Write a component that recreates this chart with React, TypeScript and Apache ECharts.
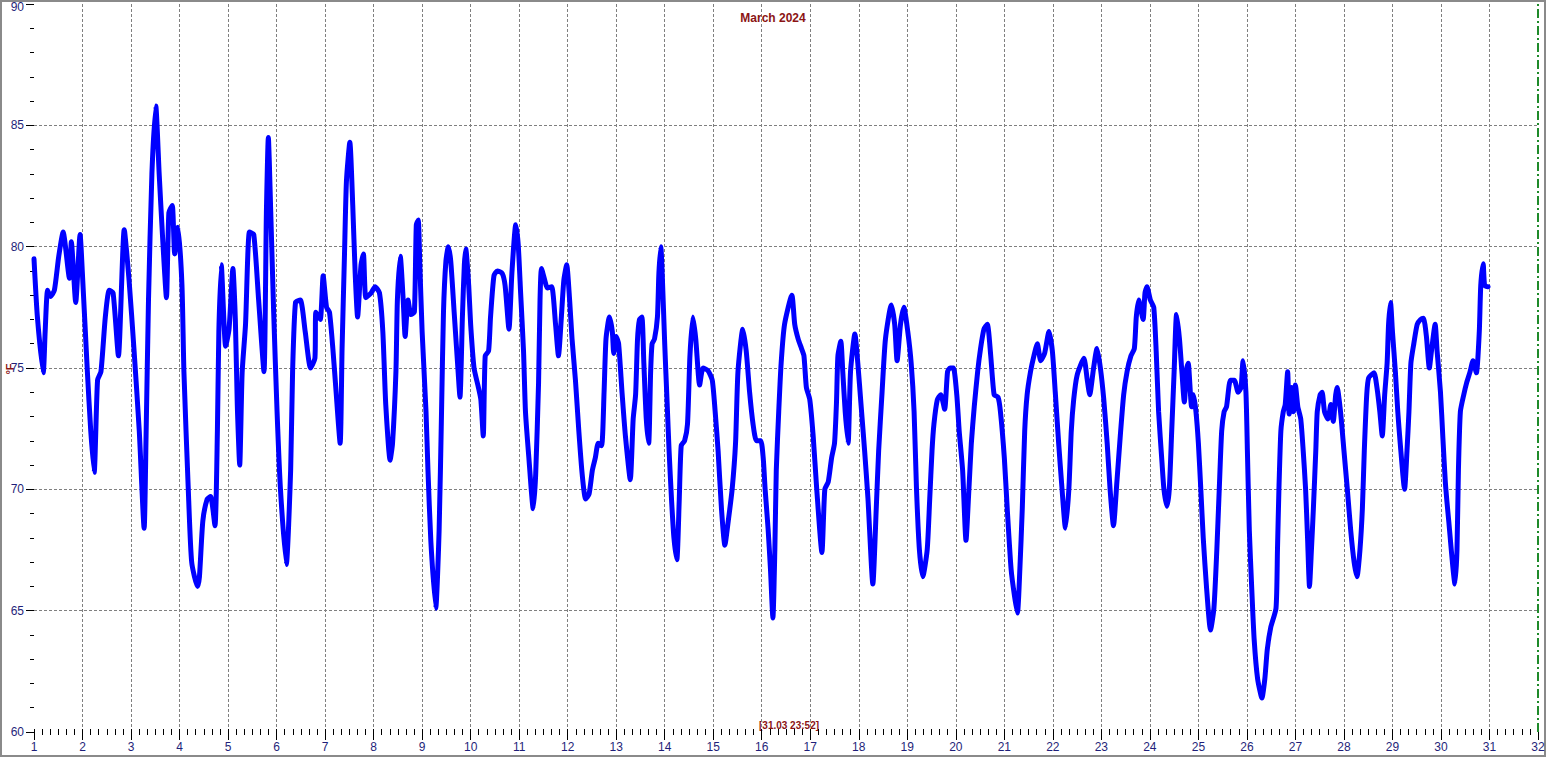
import React, { useEffect, useRef } from "react";
import * as echarts from "echarts";

// Time position (day of month, fractional) of each reading
const dayPos: number[] = [
  1.0, 1.07, 1.19, 1.23, 1.28, 1.34, 1.42, 1.51, 1.6, 1.73, 1.77, 1.86, 1.95, 2.0, 2.1, 2.17, 2.24, 2.31, 2.38,
  2.47, 2.55, 2.63, 2.74, 2.86, 2.96, 3.06, 3.17, 3.27, 3.31, 3.36, 3.43, 3.51, 3.58, 3.65, 3.73, 3.78, 3.85,
  3.9, 3.97, 4.05, 4.09, 4.18, 4.25, 4.37, 4.41, 4.48, 4.57, 4.64, 4.73, 4.78, 4.81, 4.86, 4.95, 5.02, 5.1,
  5.15, 5.19, 5.24, 5.29, 5.36, 5.44, 5.53, 5.63, 5.74, 5.79, 5.83, 5.88, 5.94, 6.01, 6.08, 6.2, 6.29, 6.33,
  6.39, 6.49, 6.59, 6.7, 6.79, 6.81, 6.9, 6.96, 7.03, 7.09, 7.16, 7.22, 7.31, 7.35, 7.4, 7.44, 7.51, 7.57,
  7.62, 7.67, 7.74, 7.79, 7.84, 7.95, 8.03, 8.12, 8.19, 8.25, 8.34, 8.39, 8.46, 8.49, 8.55, 8.61, 8.65, 8.71,
  8.77, 8.84, 8.88, 8.92, 8.95, 9.0, 9.08, 9.12, 9.18, 9.28, 9.35, 9.4, 9.44, 9.49, 9.54, 9.59, 9.66, 9.73,
  9.78, 9.83, 9.87, 9.9, 9.96, 10.0, 10.07, 10.16, 10.21, 10.26, 10.3, 10.37, 10.41, 10.48, 10.55, 10.65,
  10.71, 10.79, 10.85, 10.93, 10.98, 11.03, 11.09, 11.13, 11.2, 11.29, 11.34, 11.4, 11.43, 11.46, 11.53,
  11.58, 11.67, 11.75, 11.81, 11.87, 11.92, 11.98, 12.04, 12.09, 12.16, 12.23, 12.3, 12.37, 12.44, 12.51,
  12.57, 12.63, 12.7, 12.75, 12.79, 12.86, 12.92, 12.95, 13.0, 13.05, 13.12, 13.19, 13.29, 13.35, 13.4,
  13.44, 13.48, 13.53, 13.57, 13.62, 13.67, 13.71, 13.74, 13.79, 13.85, 13.88, 13.92, 13.95, 14.0, 14.05,
  14.09, 14.14, 14.19, 14.25, 14.3, 14.34, 14.41, 14.47, 14.52, 14.58, 14.64, 14.72, 14.79, 14.89, 14.98,
  15.04, 15.1, 15.17, 15.24, 15.31, 15.39, 15.46, 15.51, 15.61, 15.68, 15.75, 15.82, 15.89, 15.98, 16.03,
  16.07, 16.13, 16.18, 16.23, 16.27, 16.3, 16.35, 16.4, 16.47, 16.62, 16.68, 16.75, 16.82, 16.87, 16.92,
  16.99, 17.06, 17.13, 17.24, 17.3, 17.37, 17.44, 17.5, 17.54, 17.57, 17.63, 17.67, 17.72, 17.78, 17.83,
  17.92, 17.98, 18.05, 18.12, 18.19, 18.29, 18.36, 18.41, 18.48, 18.55, 18.67, 18.74, 18.79, 18.86, 18.93,
  19.01, 19.08, 19.14, 19.19, 19.25, 19.32, 19.41, 19.46, 19.51, 19.55, 19.62, 19.69, 19.77, 19.83, 19.88,
  19.95, 20.02, 20.07, 20.14, 20.21, 20.27, 20.32, 20.38, 20.45, 20.51, 20.58, 20.65, 20.72, 20.79, 20.87,
  20.92, 21.0, 21.06, 21.14, 21.21, 21.27, 21.32, 21.37, 21.42, 21.47, 21.54, 21.61, 21.68, 21.75, 21.83,
  21.92, 21.99, 22.05, 22.12, 22.19, 22.26, 22.33, 22.38, 22.43, 22.5, 22.64, 22.71, 22.76, 22.84, 22.91,
  22.98, 23.05, 23.12, 23.18, 23.25, 23.32, 23.39, 23.46, 23.53, 23.61, 23.68, 23.72, 23.77, 23.86, 23.9,
  23.94, 24.01, 24.08, 24.13, 24.18, 24.25, 24.29, 24.35, 24.4, 24.45, 24.5, 24.55, 24.61, 24.66, 24.71,
  24.76, 24.79, 24.86, 24.9, 24.95, 25.0, 25.05, 25.1, 25.17, 25.25, 25.32, 25.38, 25.43, 25.48, 25.53,
  25.58, 25.66, 25.74, 25.82, 25.88, 25.92, 25.98, 26.01, 26.05, 26.1, 26.15, 26.22, 26.31, 26.37, 26.42,
  26.49, 26.6, 26.63, 26.66, 26.7, 26.75, 26.79, 26.84, 26.87, 26.92, 26.96, 27.0, 27.05, 27.11, 27.16,
  27.21, 27.25, 27.29, 27.33, 27.37, 27.42, 27.45, 27.51, 27.55, 27.6, 27.67, 27.73, 27.78, 27.83, 27.86,
  27.93, 28.0, 28.07, 28.14, 28.21, 28.27, 28.33, 28.38, 28.42, 28.47, 28.51, 28.62, 28.68, 28.74, 28.79,
  28.84, 28.89, 28.92, 28.96, 29.0, 29.06, 29.11, 29.16, 29.25, 29.3, 29.34, 29.38, 29.44, 29.51, 29.58,
  29.64, 29.7, 29.76, 29.81, 29.88, 29.92, 29.99, 30.04, 30.09, 30.16, 30.29, 30.33, 30.36, 30.4, 30.47,
  30.53, 30.6, 30.66, 30.73, 30.79, 30.82, 30.87, 30.9, 30.97,
];

// Temperature readings (°F)
const tempF: number[] = [
  79.5, 77.1, 74.8, 76.5, 78.2, 77.95, 78.2, 79.6, 80.6, 78.7, 80.2, 77.7, 80.5, 78.8, 74.85, 72.4, 70.7, 74.5, 74.85,
  77.1, 78.2, 78.1, 75.5, 80.7, 78.6, 75.8, 72.4, 68.4, 72.2, 77.8, 83.0, 85.8, 83.0, 80.4, 77.9, 81.4, 81.7,
  79.7, 80.8, 78.4, 74.85, 70.0, 67.0, 66.0, 66.4, 68.7, 69.6, 69.7, 68.5, 72.4, 76.5, 79.25, 75.9, 76.6, 79.1,
  77.0, 73.5, 71.0, 74.8, 76.8, 80.6, 80.5, 77.8, 74.85, 81.4, 84.5, 81.4, 77.3, 73.2, 70.0, 66.9, 70.8, 74.85,
  77.7, 77.8, 76.5, 75.0, 75.4, 77.3, 77.0, 78.8, 77.5, 77.3, 75.8, 74.2, 71.9, 75.8, 79.7, 82.7, 84.3, 81.7,
  78.9, 77.1, 79.25, 79.7, 77.9, 78.1, 78.35, 78.1, 76.5, 73.5, 71.2, 71.9, 74.85, 77.8, 79.6, 77.8, 76.3, 77.8,
  77.2, 77.3, 80.9, 81.1, 79.4, 76.5, 73.2, 70.8, 67.85, 65.1, 68.3, 73.2, 77.3, 79.4, 80.0, 79.4, 77.3, 75.2,
  73.8, 77.1, 79.25, 79.9, 78.4, 76.8, 75.0, 74.2, 73.7, 72.2, 75.5, 75.7, 77.1, 78.8, 79.0, 78.9,
  78.4, 76.6, 78.9, 80.9, 80.1, 78.1, 75.7, 73.2, 71.3, 69.2, 70.6, 74.4, 77.8, 79.1, 78.6,
  78.3, 78.35, 76.8, 75.5, 77.1, 78.6, 79.25, 77.8, 76.2, 74.5, 72.4, 70.6, 69.6, 69.8, 70.8,
  71.3, 71.9, 71.8, 74.0, 76.2, 77.1, 76.5, 75.6, 76.3, 76.0, 74.0, 72.2, 70.4, 72.9, 73.9,
  76.2, 77.0, 77.1, 75.2, 72.9, 71.9, 74.85, 76.0, 76.2, 77.1, 78.9, 80.0, 78.8, 76.0, 73.55,
  71.6, 69.6, 68.0, 67.1, 69.6, 71.8, 72.0, 72.7, 75.5, 77.1, 76.2, 74.3, 75.0, 74.9, 74.5,
  73.2, 71.6, 69.2, 67.7, 68.7, 70.0, 71.9, 74.85, 76.6, 75.7, 74.0, 72.7, 72.0, 72.0, 71.3,
  70.0, 68.4, 66.7, 64.7, 67.5, 70.8, 73.2, 75.2, 76.8, 78.0, 76.8, 76.2, 75.8, 75.5, 74.2,
  73.7, 72.2, 70.1, 67.4, 70.0, 70.3, 71.3, 71.9, 73.55, 75.5, 76.1, 74.85, 73.2, 71.9, 74.85,
  76.4, 75.2, 73.4, 71.6, 69.6, 66.1, 69.2, 71.6, 74.0, 76.2, 77.6, 76.8, 75.3, 76.8, 77.5,
  76.5, 75.2, 73.2, 70.0, 67.5, 66.4, 67.5, 69.5, 71.6, 72.7, 73.7, 73.9, 73.3, 74.85, 75.0,
  75.0, 73.9, 72.4, 70.8, 67.9, 70.0, 71.9, 73.4, 74.85, 75.8, 76.6, 76.8, 75.5, 73.9, 73.8,
  73.2, 71.3, 69.2, 66.7, 65.6, 64.9, 66.7, 69.2, 72.4, 73.9, 74.85, 75.5, 76.0, 75.3, 75.6,
  76.5, 75.7, 74.0, 71.9, 70.0, 68.4, 70.0, 72.4, 73.7, 74.7, 75.4, 74.5, 73.9, 75.0, 75.8,
  75.0, 73.7, 71.9, 70.0, 68.5, 70.3, 72.2, 73.9, 74.85, 75.5, 75.8, 77.1, 77.8, 77.0, 78.1,
  78.35, 77.8, 77.5, 75.7, 73.2, 71.1, 70.0, 69.3, 70.0, 72.4, 74.85, 77.2, 76.2, 74.85, 73.6,
  75.0, 75.2, 73.4, 73.9, 73.2, 71.9, 70.0, 68.0, 65.9, 64.2, 65.1, 67.5, 70.0, 72.4, 73.2,
  73.4, 74.5, 74.5, 74.0, 74.2, 75.3, 74.0, 71.6, 68.3, 65.9, 63.8, 62.2, 61.4, 62.2, 63.4,
  64.3, 65.1, 67.5, 70.0, 72.4, 73.2, 73.5, 74.85, 73.1, 74.2, 73.2, 74.3, 73.4, 72.9, 71.6,
  70.0, 68.0, 66.0, 67.5, 69.2, 71.6, 73.2, 73.9, 74.0, 73.2, 72.9, 73.5, 72.8, 73.9, 74.2,
  73.2, 71.6, 70.0, 68.3, 67.0, 66.4, 67.5, 69.2, 71.6, 73.9, 74.6, 74.8, 74.2, 73.2, 72.2,
  73.9, 75.2, 76.8, 77.7, 76.5, 74.85, 73.2, 71.9, 70.0, 71.6, 73.2, 75.2, 76.0, 76.8, 77.0,
  77.05, 76.3, 75.0, 75.8, 76.8, 75.7, 74.0, 72.1, 70.3, 68.7, 66.1, 67.5, 70.8, 73.2, 73.9,
  74.4, 74.85, 75.3, 74.8, 76.5, 78.4, 79.3, 78.4, 78.35,
];

const titleText = "March 2024";
const cursorText = "[31.03 23:52]";
const yUnit = "°F";
const xMin = 1;
const xMax = 32;
const yMin = 60;
const yMax = 90;

const FONT = 'Arial, "Liberation Sans", sans-serif';
const NAVY = "#1f1f7a";
const DARKRED = "#8b1414";

export default function App() {
  const ref = useRef<HTMLDivElement>(null);
  useEffect(() => {
    document.body.style.margin = "0";
    if (!ref.current) return;
    const chart = echarts.init(ref.current, null, { renderer: "svg" });
    const data = dayPos.map((d, i) => [d, tempF[i]]);
    chart.setOption({
      animation: false,
      backgroundColor: "#ffffff",
      textStyle: { fontFamily: FONT },
      title: {
        text: titleText,
        left: "center",
        top: 12,
        padding: 0,
        textStyle: { fontSize: 12, fontWeight: "bold", color: DARKRED, fontFamily: FONT },
      },
      grid: { left: 34, right: 8, top: 4, bottom: 25, containLabel: false, outerBoundsMode: "none" },
      xAxis: {
        type: "value",
        min: xMin,
        max: xMax,
        interval: 1,
        offset: -3,
        axisLine: { show: false },
        axisTick: { show: true, inside: false, length: 11, lineStyle: { color: "#000000", width: 1 } },
        minorTick: { show: true, splitNumber: 6, length: 6, lineStyle: { color: "#000000", width: 1 } },
        axisLabel: { color: NAVY, fontSize: 12, margin: 12, fontFamily: FONT },
        splitLine: {
          show: true,
          showMinLine: false,
          showMaxLine: false,
          lineStyle: { color: "#7f7f7f", type: [3, 2], width: 1 },
        },
      },
      yAxis: {
        type: "value",
        min: yMin,
        max: yMax,
        interval: 5,
        axisLine: { show: false },
        axisTick: { show: true, inside: false, length: 8, lineStyle: { color: "#000000", width: 1 } },
        minorTick: { show: true, splitNumber: 5, length: 4, lineStyle: { color: "#000000", width: 1 } },
        axisLabel: {
          color: NAVY,
          fontSize: 12,
          margin: 10,
          fontFamily: FONT,
          formatter: (v: number) => (v === yMax ? `{top|${v}}` : `${v}`),
          rich: { top: { color: NAVY, fontSize: 12, fontFamily: FONT, padding: [5, 0, 0, 0] } },
        },
        splitLine: {
          show: true,
          showMinLine: false,
          showMaxLine: false,
          lineStyle: { color: "#7f7f7f", type: [3, 2], width: 1 },
        },
      },
      series: [
        {
          type: "line",
          data,
          showSymbol: false,
          symbol: "none",
          smooth: 0.2,
          lineStyle: { color: "#0000ff", width: 5, join: "round", cap: "round" },
          markLine: {
            silent: true,
            symbol: "none",
            label: { show: false },
            lineStyle: { color: "#1f8a2a", type: [9, 3, 2, 3], width: 2 },
            data: [{ xAxis: xMax }],
          },
        },
      ],
      graphic: [
        {
          type: "rect",
          shape: { x: 1, y: 1, width: 1544, height: 755 },
          style: { fill: "none", stroke: "#8a8a8a", lineWidth: 2 },
          silent: true,
        },
        {
          type: "text",
          x: 10,
          y: 369,
          rotation: Math.PI / 2,
          style: {
            text: yUnit,
            fill: DARKRED,
            font: `bold 11px ${FONT}`,
            textAlign: "center",
            textVerticalAlign: "middle",
          },
          silent: true,
        },
        {
          type: "text",
          x: 789,
          y: 725,
          style: {
            text: cursorText,
            fill: DARKRED,
            font: `bold 10px ${FONT}`,
            textAlign: "center",
            textVerticalAlign: "middle",
          },
          silent: true,
        },
      ],
    });
    return () => chart.dispose();
  }, []);
  return <div ref={ref} style={{ width: 1546, height: 757 }} />;
}
